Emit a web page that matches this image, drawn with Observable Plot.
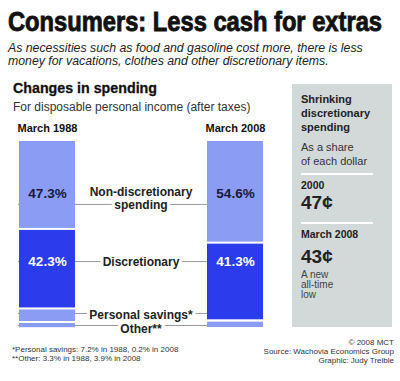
<!DOCTYPE html>
<html><head><meta charset="utf-8">
<script src="https://cdn.jsdelivr.net/npm/d3@7"></script>
<script src="https://cdn.jsdelivr.net/npm/@observablehq/plot@0.6"></script>
<style>
html,body{margin:0;padding:0;background:#fff;}
#wrap{position:relative;width:400px;height:381px;overflow:hidden;font-family:"Liberation Sans",Arial,sans-serif;color:#222;}
.abs{position:absolute;white-space:nowrap;}
#title{left:8px;top:5px;font-size:28px;font-weight:bold;line-height:34px;color:#111;-webkit-text-stroke:0.9px #111;transform-origin:0 0;}
#sub{left:8px;top:42px;font-size:12.3px;font-style:italic;line-height:13px;color:#222;}
#head{left:13px;top:79px;font-size:15px;font-weight:bold;line-height:18px;color:#111;-webkit-text-stroke:0.3px #111;transform-origin:0 0;}
#head2{left:13px;top:100px;font-size:12px;line-height:14px;color:#333;}
#chart{left:0;top:115px;}
#panel{left:292px;top:84px;width:100px;height:243px;background:#d3d8d8;}
#panel .abs{left:9px;}
.pb{font-weight:bold;color:#222;}
.rule{position:absolute;left:9px;width:72px;height:2px;background:#fff;}
#foot{left:12px;top:345px;font-size:8px;line-height:9px;color:#333;}
#cred{right:6px;top:338px;font-size:8px;line-height:9px;color:#333;text-align:right;}
svg g[aria-label^="x-axis"] text{font-weight:bold !important;font-size:11px !important;fill:#111;}
</style></head>
<body>
<div id="wrap">
  <div id="title" class="abs">Consumers: Less cash for extras</div>
  <div id="sub" class="abs">As necessities such as food and gasoline cost more, there is less<br>money for vacations, clothes and other discretionary items.</div>
  <div id="head" class="abs">Changes in spending</div>
  <div id="head2" class="abs">For disposable personal income (after taxes)</div>
  <div id="chart" class="abs"></div>
  <div id="panel" class="abs">
    <div class="abs pb" style="top:8px;font-size:11px;line-height:14px;">Shrinking<br>discretionary<br>spending</div>
    <div class="abs" style="top:56px;font-size:11px;line-height:14px;color:#333;">As a share<br>of each dollar</div>
    <div class="rule" style="top:89px;"></div>
    <div class="abs pb" id="p1y" style="top:95px;font-size:10.5px;line-height:12px;"></div>
    <div class="abs pb" id="p1v" style="top:108px;font-size:19px;line-height:22px;"></div>
    <div class="rule" style="top:138px;"></div>
    <div class="abs pb" id="p2y" style="top:144px;font-size:10.5px;line-height:12px;"></div>
    <div class="abs pb" id="p2v" style="top:162px;font-size:19px;line-height:22px;"></div>
    <div class="abs" style="top:186px;font-size:10px;line-height:10px;color:#444;">A new<br>all-time<br>low</div>
  </div>
  <div id="foot" class="abs">*Personal savings: 7.2% in 1988, 0.2% in 2008<br>**Other: 3.3% in 1988, 3.9% in 2008</div>
  <div id="cred" class="abs">© 2008 MCT<br>Source: Wachovia Economics Group<br>Graphic: Judy Treible</div>
</div>
<script>
// ---- data ----
const years = ["March 1988", "March 2008"];
const categories = ["Non-discretionary", "Discretionary", "Personal savings*", "Other**"];
const share1988 = [47.3, 42.3, 7.2, 3.3];
const share2008 = [54.6, 41.3, 0.2, 3.9];
const labelText = ["Non-discretionary\nspending", "Discretionary", "Personal savings*", "Other**"];
const panelYears = ["2000", "March 2008"];
const panelCents = [47, 43];

// ---- layout (positions in y-scale units, 0 = top of bars) ----
const labelRowY = [30.6, 64.4, 92.6, 100];
const leaderRowY = [34.0, 64.4, 92.0, 98.4];
const valueRowY = [28.2, 64.7];

const colors = ["#8a9cf3", "#2b3cec", "#8a9cf3", "#8a9cf3"];

const rows = [];
years.forEach((yr, j) => categories.forEach((c, i) =>
  rows.push({year: yr, category: c, share: (j ? share2008 : share1988)[i]})));

const valueRows = rows.filter(d => categories.indexOf(d.category) < 2)
  .map(d => ({...d, y: valueRowY[categories.indexOf(d.category)]}));
const mid = categories.map((c, i) => ({text: labelText[i], y: labelRowY[i], ry: leaderRowY[i]}));

const plot = Plot.plot({
  width: 275, height: 225,
  marginTop: 25, marginBottom: 12, marginLeft: 18, marginRight: 12,
  x: {type: "band", domain: years, paddingInner: 0.7037, paddingOuter: 0, axis: "top", tickSize: 0, tickPadding: 9, label: null},
  y: {domain: [0, 100], reverse: true, axis: null},
  color: {domain: categories, range: colors},
  style: {fontFamily: "Liberation Sans, Arial, sans-serif", background: "transparent", overflow: "visible"},
  marks: [
    Plot.ruleY(mid, {y: "ry", stroke: "#999", strokeWidth: 1}),
    Plot.barY(rows, {x: "year", y: "share", fill: "category", insetTop: 1, insetBottom: 1}),
    Plot.text(valueRows.filter(d => d.category === categories[0]), {x: "year", y: "y", text: d => d.share.toFixed(1) + "%", fill: "#141a40", fontSize: 13.5, fontWeight: "bold"}),
    Plot.text(valueRows.filter(d => d.category === categories[1]), {x: "year", y: "y", text: d => d.share.toFixed(1) + "%", fill: "white", fontSize: 13.5, fontWeight: "bold"}),
    Plot.text(mid, {y: "y", text: "text", frameAnchor: "middle", fill: "#222", stroke: "white", strokeWidth: 6, paintOrder: "stroke", fontSize: 12, fontWeight: "bold", lineHeight: 1.08})
  ]
});
document.getElementById("chart").appendChild(plot);

document.getElementById("p1y").textContent = panelYears[0];
document.getElementById("p1v").textContent = panelCents[0] + "¢";
document.getElementById("p2y").textContent = panelYears[1];
document.getElementById("p2v").textContent = panelCents[1] + "¢";

function fit(id, w) {
  const el = document.getElementById(id);
  const r = el.getBoundingClientRect().width;
  el.style.transform = `scaleX(${w / r})`;
}
fit("title", 374);
fit("head", 144);
</script>
</body></html>
